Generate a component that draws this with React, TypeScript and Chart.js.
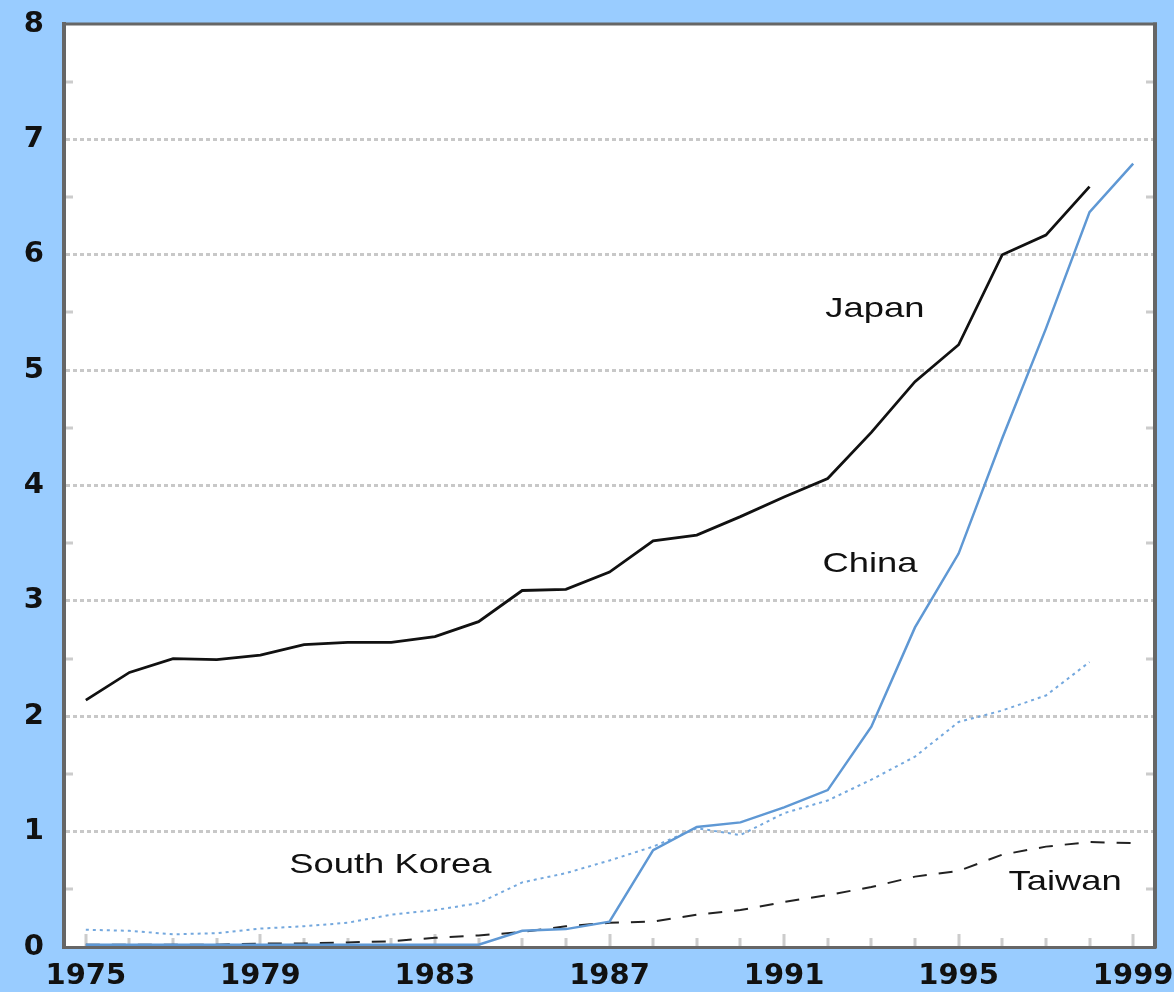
import React, { useEffect, useRef } from 'react';
import { Chart, registerables } from 'chart.js';

Chart.register(...registerables);

const years = [
  '1975', '1976', '1977', '1978', '1979', '1980', '1981', '1982', '1983', '1984',
  '1985', '1986', '1987', '1988', '1989', '1990', '1991', '1992', '1993', '1994',
  '1995', '1996', '1997', '1998', '1999',
];

const japan = [2.14, 2.38, 2.5, 2.49, 2.53, 2.62, 2.64, 2.64, 2.69, 2.82, 3.09, 3.1, 3.25, 3.52, 3.57, 3.73, 3.9, 4.06, 4.46, 4.9, 5.22, 6.0, 6.17, 6.59, null];
const china = [0.02, 0.02, 0.02, 0.02, 0.02, 0.02, 0.02, 0.02, 0.02, 0.02, 0.14, 0.155, 0.22, 0.84, 1.04, 1.08, 1.21, 1.36, 1.91, 2.77, 3.41, 4.41, 5.36, 6.37, 6.79];
const southKorea = [0.15, 0.14, 0.11, 0.12, 0.16, 0.18, 0.21, 0.28, 0.32, 0.38, 0.56, 0.64, 0.75, 0.87, 1.03, 0.97, 1.16, 1.27, 1.45, 1.65, 1.95, 2.05, 2.18, 2.47, null];
const taiwan = [0.02, 0.02, 0.02, 0.02, 0.03, 0.03, 0.04, 0.05, 0.08, 0.1, 0.13, 0.18, 0.21, 0.22, 0.28, 0.32, 0.39, 0.45, 0.52, 0.61, 0.66, 0.8, 0.87, 0.91, 0.9];

const yTickValues = [0, 1, 2, 3, 4, 5, 6, 7, 8];
const yMinorValues = [0.5, 1.5, 2.5, 3.5, 4.5, 5.5, 6.5, 7.5];

const seriesNotes = ['Japan', 'China', 'South Korea', 'Taiwan'];
const noteIndex = [18.08, 17.97, 6.98, 22.44];
const noteValue = [5.46, 3.25, 0.64, 0.49];

const decorPlugin = {
  id: 'decor',
  beforeDraw(chart: any) {
    const { ctx, chartArea } = chart;
    ctx.save();
    ctx.fillStyle = '#FFFFFF';
    ctx.fillRect(chartArea.left, chartArea.top, chartArea.right - chartArea.left, chartArea.bottom - chartArea.top);
    ctx.restore();
  },
  beforeDatasetsDraw(chart: any) {
    const { ctx, chartArea, scales } = chart;
    const xs = scales.x;
    const ys = scales.y;
    ctx.save();
    ctx.strokeStyle = '#CCCCCC';
    ctx.lineWidth = 3;
    ctx.beginPath();
    yMinorValues.forEach((v) => {
      const py = Math.round(ys.getPixelForValue(v));
      ctx.moveTo(chartArea.left + 2, py);
      ctx.lineTo(chartArea.left + 9, py);
      ctx.moveTo(chartArea.right - 9, py);
      ctx.lineTo(chartArea.right - 2, py);
    });
    years.forEach((_, i) => {
      const px = Math.round(xs.getPixelForValue(i));
      const len = i % 4 === 0 ? 12 : 8;
      ctx.moveTo(px, chartArea.bottom - 1);
      ctx.lineTo(px, chartArea.bottom - 1 - len);
    });
    ctx.stroke();

    // top and right frame
    ctx.strokeStyle = '#666666';
    ctx.beginPath();
    ctx.lineWidth = 3;
    ctx.moveTo(chartArea.left, chartArea.top);
    ctx.lineTo(chartArea.right + 2, chartArea.top);
    ctx.stroke();
    ctx.beginPath();
    ctx.lineWidth = 4;
    ctx.moveTo(chartArea.right, chartArea.top - 1.5);
    ctx.lineTo(chartArea.right, chartArea.bottom + 1.5);
    ctx.stroke();
    ctx.restore();
  },
  afterDatasetsDraw(chart: any) {
    const { ctx, scales } = chart;
    ctx.save();
    ctx.font = '28px "Liberation Sans", Arial, sans-serif';
    ctx.fillStyle = '#111111';
    ctx.textAlign = 'center';
    ctx.textBaseline = 'alphabetic';
    seriesNotes.forEach((t, i) => {
      const px = scales.x.getPixelForValue(noteIndex[i]);
      const py = scales.y.getPixelForValue(noteValue[i]);
      ctx.save();
      ctx.translate(px, py);
      ctx.scale(1.3, 1);
      ctx.fillText(t, 0, 0);
      ctx.restore();
    });
    ctx.restore();
  },
};

export default function App() {
  const ref = useRef<HTMLCanvasElement | null>(null);

  useEffect(() => {
    if (!ref.current) return;
    const tickFont = { family: '"DejaVu Sans", sans-serif', weight: 'bold' as const, size: 29 };
    const chart = new Chart(ref.current, {
      type: 'line',
      data: {
        labels: years,
        datasets: [
          { label: 'Japan', data: japan, borderColor: '#111111', borderWidth: 2.8, pointRadius: 0, tension: 0, fill: false },
          { label: 'China', data: china, borderColor: '#5F98D4', borderWidth: 2.5, pointRadius: 0, tension: 0, fill: false },
          { label: 'South Korea', data: southKorea, borderColor: '#74A8DE', borderWidth: 2, borderDash: [3, 4], pointRadius: 0, tension: 0, fill: false },
          { label: 'Taiwan', data: taiwan, borderColor: '#222222', borderWidth: 2, borderDash: [14, 12], pointRadius: 0, tension: 0, fill: false },
        ],
      },
      options: {
        responsive: false,
        animation: false,
        devicePixelRatio: 1,
        layout: { padding: { top: 24, right: 19, left: 0, bottom: 0 } },
        plugins: { legend: { display: false }, tooltip: { enabled: false } },
        scales: {
          x: {
            type: 'category',
            offset: true,
            grid: { display: false, drawTicks: false },
            border: { display: true, color: '#666666', width: 3 },
            ticks: {
              autoSkip: false,
              maxRotation: 0,
              minRotation: 0,
              padding: 12,
              color: '#111111',
              font: tickFont,
              callback: (_v: any, i: number) => (i % 4 === 0 ? years[i] : ''),
            },
            afterFit: (s: any) => {
              s.height = 45;
              s.paddingLeft = 0;
              s.paddingRight = 0;
            },
          },
          y: {
            min: 0,
            max: 8,
            afterBuildTicks: (s: any) => {
              s.ticks = yTickValues.map((v) => ({ value: v }));
            },
            grid: {
              drawTicks: false,
              lineWidth: 3,
              color: (c: any) =>
                c.tick && c.tick.value > 0 && c.tick.value < 8 ? '#C8C8C8' : 'rgba(0,0,0,0)',
            },
            border: { display: true, color: '#666666', width: 4, dash: [4, 3] },
            ticks: {
              padding: 20,
              crossAlign: 'center',
              color: '#111111',
              font: tickFont,
              callback: (v: any) => String(v),
            },
            afterFit: (s: any) => {
              s.width = 64;
              s.paddingTop = 0;
              s.paddingBottom = 0;
            },
          },
        },
      },
      plugins: [decorPlugin],
    });
    return () => chart.destroy();
  }, []);

  return (
    <div style={{ position: 'absolute', left: 0, top: 0, width: 1174, height: 992, background: '#99CCFF' }}>
      <canvas ref={ref} width={1174} height={992} style={{ display: 'block' }} />
    </div>
  );
}
